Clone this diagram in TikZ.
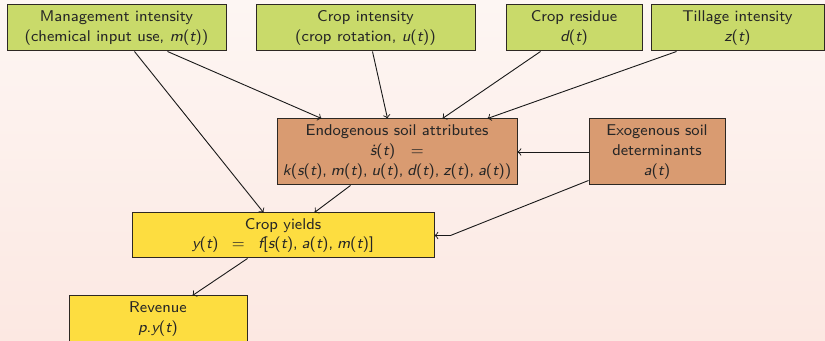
\documentclass[tikz,border=0pt]{standalone}
\usepackage{fontspec}
\usetikzlibrary{calc,arrows}
\definecolor{bgtop}{RGB}{253,246,243}
\definecolor{bgbot}{RGB}{252,232,226}
\definecolor{boxgreen}{RGB}{201,218,106}
\definecolor{boxbrown}{RGB}{217,155,113}
\definecolor{boxyellow}{RGB}{253,221,64}
\definecolor{boxline}{RGB}{45,40,35}
\newcommand\vi[1]{{\itshape #1}}
\newcommand\cs{,\hspace{0.25em}}
\begin{document}
\begin{tikzpicture}[x=0.5pt,y=-0.5pt,
  box/.style={draw=boxline, line width=0.5pt, align=center, inner sep=0pt,
    font=\sffamily\fontsize{7.8}{9.9}\selectfont, text=black!85},
  sz/.style 2 args={minimum width=#1*0.5pt, minimum height=#2*0.5pt},
  inbox/.style={box, fill=boxgreen},
  soilbox/.style={box, fill=boxbrown},
  outbox/.style={box, fill=boxyellow},
  link/.style={->, >=to, line width=0.45pt, draw=black!90}]
  % page background
  \shade[top color=bgtop, bottom color=bgbot] (0,0) rectangle (825,341);
  \useasboundingbox (0,0) rectangle (825,341);

  % inputs
  \node[inbox, sz={219}{46}] (mgmt) at (116.5,28)
    {Management intensity\\(chemical input use, \vi{m}(\vi{t}))};
  \node[inbox, sz={219}{46}] (crop) at (365.5,28)
    {Crop intensity\\(crop rotation, \vi{u}(\vi{t}))};
  \node[inbox, sz={136}{46}] (resid) at (574,28)
    {Crop residue\\\vi{d}(\vi{t})};
  \node[inbox, sz={173}{46}] (till) at (737.5,28)
    {Tillage intensity\\\vi{z}(\vi{t})};

  % soil
  \node[soilbox, sz={240}{66}] (endo) at (397,152)
    {Endogenous soil attributes\\\vi{\.s}(\vi{t})\quad=\\
     \vi{k}(\vi{s}(\vi{t})\cs\vi{m}(\vi{t})\cs\vi{u}(\vi{t})\cs\vi{d}(\vi{t})\cs\vi{z}(\vi{t})\cs\vi{a}(\vi{t}))};
  \node[soilbox, sz={136}{66}] (exo) at (657,152)
    {Exogenous soil\\determinants\\\vi{a}(\vi{t})};

  % outputs
  \node[outbox, sz={302}{45}] (yield) at (283,235.5)
    {Crop yields\\\vi{y}(\vi{t})\enspace\ =\enspace\ \vi{f}[\vi{s}(\vi{t})\cs\vi{a}(\vi{t})\cs\vi{m}(\vi{t})]};
  \node[outbox, sz={178}{46}] (rev) at (158,319)
    {Revenue\\\vi{p}.\vi{y}(\vi{t})};

  % connectors
  \draw[link] ($(mgmt.south west)+(161,0)$) -- ($(endo.north west)+(45,0)$);
  \draw[link] ($(mgmt.south west)+(128,0)$) -- ($(yield.north west)+(132,0)$);
  \draw[link] ($(crop.south west)+(117,0)$) -- ($(endo.north west)+(111,0)$);
  \draw[link] ($(resid.south west)+(35,0)$) -- ($(endo.north west)+(166,0)$);
  \draw[link] ($(till.south west)+(26,0)$) -- ($(endo.north west)+(211,0)$);
  \draw[link] (exo.west) -- (endo.east);
  \draw[link] ($(exo.south west)+(0,-5)$) -- ($(yield.east)+(16,0)$) -- (yield.east);
  \draw[link] ($(endo.south west)+(74,0)$) -- ($(yield.north west)+(183,0)$);
  \draw[link] ($(yield.south west)+(116,0)$) -- ($(rev.north west)+(124,0)$);
\end{tikzpicture}
\end{document}
